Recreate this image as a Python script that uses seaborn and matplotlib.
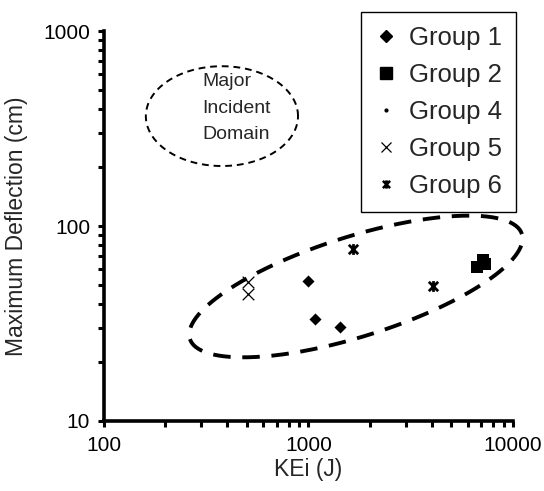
import numpy as np
import pandas as pd
import seaborn as sns
import matplotlib
matplotlib.use("Agg")
import matplotlib.pyplot as plt
from matplotlib import ticker
from matplotlib.lines import Line2D
from matplotlib.path import Path

# data (group 4 has no visible point)
g1_ke = [995, 1077, 1426]
g1_def = [52.2, 33.3, 30.3]
g2_ke = [6700, 7100, 7300]
g2_def = [62, 67, 64]
g4_ke = []
g4_def = []
g5_ke = [506, 506]
g5_def = [51.6, 44.8]
g6_ke = [1650, 4060]
g6_def = [76.2, 49.2]
groups = ["Group 1", "Group 2", "Group 4", "Group 5", "Group 6"]

df = pd.concat([
    pd.DataFrame({"KEi": g1_ke, "Defl": g1_def, "group": "Group 1"}),
    pd.DataFrame({"KEi": g2_ke, "Defl": g2_def, "group": "Group 2"}),
    pd.DataFrame({"KEi": g4_ke, "Defl": g4_def, "group": "Group 4"}),
    pd.DataFrame({"KEi": g5_ke, "Defl": g5_def, "group": "Group 5"}),
    pd.DataFrame({"KEi": g6_ke, "Defl": g6_def, "group": "Group 6"}),
], ignore_index=True)

# excel style star: x with a vertical bar
star = Path([(-1, -1), (1, 1), (-1, 1), (1, -1), (0, -1.15), (0, 1.15)],
            [Path.MOVETO, Path.LINETO, Path.MOVETO, Path.LINETO, Path.MOVETO, Path.LINETO])

sns.set_style("ticks")
plt.rcParams["font.family"] = ["Liberation Sans", "DejaVu Sans"]

fig = plt.figure(figsize=(5.44, 4.91), dpi=100)
ax = fig.add_axes([0.191, 0.1426, 0.752, 0.794])

styles = {
    "Group 1": dict(marker="D", s=38, linewidth=0),
    "Group 2": dict(marker="s", s=75, linewidth=0),
    "Group 4": dict(marker=".", s=20, linewidth=0),
    "Group 5": dict(marker="x", s=70, linewidth=0.9),
    "Group 6": dict(marker=star, s=60, linewidth=2, edgecolor="black"),
}
for g in groups:
    sub = df[df["group"] == g]
    if sub.empty:
        continue
    sns.scatterplot(data=sub, x="KEi", y="Defl", color="black", ax=ax,
                    legend=False, zorder=3, **styles[g])

ax.set_xscale("log")
ax.set_yscale("log")
ax.set_xlim(100, 10000)
ax.set_ylim(10, 1000)

# dashed ellipses (in decade units)
t = np.linspace(0, 2 * np.pi, 400)
cu, cv, a, b, th = 3.232, 1.69, 0.855, 0.255, np.deg2rad(18.5)
u = cu + a * np.cos(t) * np.cos(th) - b * np.sin(t) * np.sin(th)
v = cv + a * np.cos(t) * np.sin(th) + b * np.sin(t) * np.cos(th)
ax.plot(10 ** u, 10 ** v, color="black", lw=2.8, dashes=(4.5, 3), zorder=2,
        clip_on=False)

cu2, cv2, a2, b2 = 2.577, 2.564, 0.372, 0.256
u2 = cu2 + a2 * np.cos(t)
v2 = cv2 + b2 * np.sin(t)
ax.plot(10 ** u2, 10 ** v2, color="black", lw=1.4, dashes=(3.5, 2.5), zorder=2)
ax.text(10 ** 2.479, 10 ** 2.605, "Major\nIncident\nDomain", ha="left", va="center",
        multialignment="left", fontsize=14, linespacing=1.75)

fmt = ticker.FuncFormatter(lambda val, p: f"{val:g}")
ax.xaxis.set_major_formatter(fmt)
ax.yaxis.set_major_formatter(fmt)
ax.xaxis.set_minor_formatter(ticker.NullFormatter())
ax.yaxis.set_minor_formatter(ticker.NullFormatter())
ax.tick_params(which="both", direction="out", width=2.2, length=4, colors="black",
               labelsize=15)
ax.tick_params(axis="x", which="major", pad=7)
ax.tick_params(axis="y", which="major", pad=6)

sns.despine(ax=ax)
for sp in ["left", "bottom"]:
    ax.spines[sp].set_linewidth(2.6)
    ax.spines[sp].set_color("black")

ax.set_xlabel("KEi (J)", fontsize=16.5, labelpad=2)
ax.set_ylabel("Maximum Deflection (cm)", fontsize=16.5, labelpad=11)

handles = [
    Line2D([], [], color="black", marker="D", ls="", markersize=6),
    Line2D([], [], color="black", marker="s", ls="", markersize=8),
    Line2D([], [], color="black", marker=".", ls="", markersize=4),
    Line2D([], [], color="black", marker="x", ls="", markersize=7, mew=0.9),
    Line2D([], [], color="black", marker=star, ls="", markersize=6, mew=1.8),
]
leg = ax.legend(handles, groups, loc="upper right", bbox_to_anchor=(1.007, 1.049),
                borderaxespad=0, fontsize=18.5, frameon=True, fancybox=False,
                handlelength=0.8, handletextpad=0.5, labelspacing=0.5,
                borderpad=0.55)
leg.get_frame().set_edgecolor("black")
leg.get_frame().set_linewidth(1)
leg.get_frame().set_alpha(1)

fig.savefig("out.png", dpi=100)
